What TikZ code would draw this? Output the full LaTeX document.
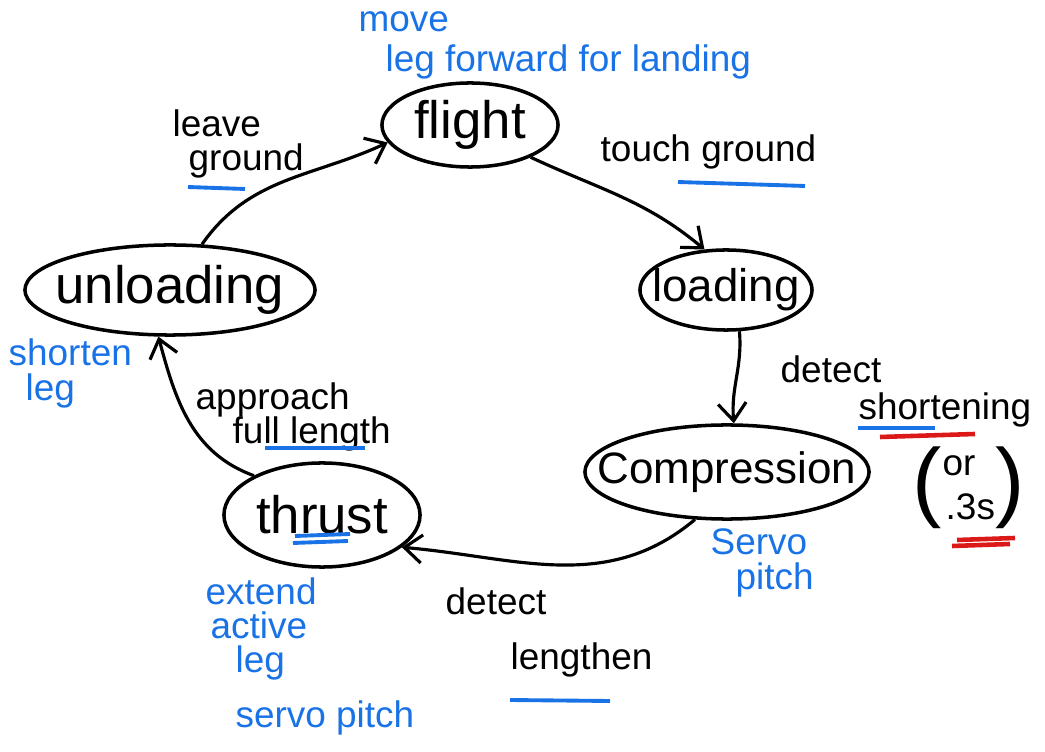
\documentclass[tikz,border=0pt]{standalone}
\usepackage{fontspec}
\setmainfont{Liberation Sans}
\usetikzlibrary{shapes.geometric,arrows.meta}
\definecolor{inkblue}{RGB}{25,115,230}
\definecolor{inkred}{RGB}{220,25,25}
\tikzset{
  state/.style={draw, ellipse, line width=1pt, inner sep=0pt},
  stxt/.style={font=\fontsize{15}{17}\selectfont, inner sep=0pt},
  arr/.style={line width=0.9pt, -{Straight Barb[length=5pt,width=8pt,line width=0.9pt]}},
  lbl/.style={font=\fontsize{10.5}{12}\selectfont, anchor=west, inner sep=0pt, text height=0.72em, text depth=0.2em},
  note/.style={lbl, text=inkblue},
  bul/.style={inkblue, line width=1.1pt},
  rul/.style={inkred, line width=1.3pt},
  paren/.style={font=\fontsize{25}{27}\selectfont, inner sep=0pt}
}
\begin{document}
\begin{tikzpicture}[x=0.01cm,y=-0.01cm]
\useasboundingbox (0,0) rectangle (1045,752);
\node[state, minimum width=1.76cm, minimum height=0.84cm, label={[stxt]center:flight}] (flight) at (470,125) {};
\node[state, minimum width=1.72cm, minimum height=0.80cm, label={[stxt, font=\fontsize{13}{15}\selectfont]center:loading}] (loading) at (726,290) {};
\node[state, minimum width=2.84cm, minimum height=0.94cm, label={[stxt, font=\fontsize{12.5}{15}\selectfont]center:Compression}] (compression) at (727,472) {};
\node[state, minimum width=1.96cm, minimum height=1.04cm, label={[stxt]center:thrust}] (thrust) at (322,515) {};
\node[state, minimum width=2.90cm, minimum height=0.90cm, label={[stxt]center:unloading}] (unloading) at (170,290) {};

\draw[arr] (unloading.55) to[out=55,in=205] (flight.192);
\draw[arr] (flight.-28) to[out=-25,in=140] (loading.118);
\draw[arr] (loading.-72) to[out=-85,in=95] (compression.82);
\draw[arr] (compression.236) to[out=-140,in=-5] (thrust.-22);
\draw[arr] (thrust.150) to[out=160,in=-75] (unloading.-104);

% black labels
\node[lbl] (leave) at (172,127) {leave};
\node[lbl] (ground) at (188,161) {ground};
\draw[bul] (188,187) -- (245,189);
\node[lbl] (touch) at (600,152) {touch ground};
\draw[bul] (678,182) -- (805,186);
\node[lbl] (detect1) at (780,373) {detect};
\node[lbl] (short) at (858,410) {shortening};
\draw[bul] (858,428) -- (935,428);
\draw[rul] (880,437) -- (975,434);
\node[paren] (lp) at (927,488) {(};
\node[paren] (rp) at (1010,488) {)};
\node[lbl] (or) at (942,466) {or};
\node[lbl] (secs) at (945,510) {.3s};
\draw[rul] (957,540) -- (1015,538);
\draw[rul] (952,546) -- (1010,544);
\node[lbl] (detect2) at (445,605) {detect};
\node[lbl] (length) at (510,660) {lengthen};
\draw[bul] (510,700) -- (610,701);
\node[lbl] (appr) at (195,400) {approach};
\node[lbl] (full) at (232,434) {full length};
\draw[bul] (265,448) -- (365,448);
\draw[bul] (295,536) -- (350,534);
\draw[bul] (293,543) -- (348,541);

% blue notes
\node[note] (move) at (358,22) {move};
\node[note] (fwd) at (385,62) {leg forward for landing};
\node[note] (shorten) at (8,356) {shorten};
\node[note] (leg1) at (25,391) {leg};
\node[note] (servo) at (710,545) {Servo};
\node[note] (pitch1) at (735,580) {pitch};
\node[note] (extend) at (205,595) {extend};
\node[note] (active) at (210,629) {active};
\node[note] (leg2) at (235,663) {leg};
\node[note] (servo2) at (235,718) {servo pitch};
\end{tikzpicture}
\end{document}
